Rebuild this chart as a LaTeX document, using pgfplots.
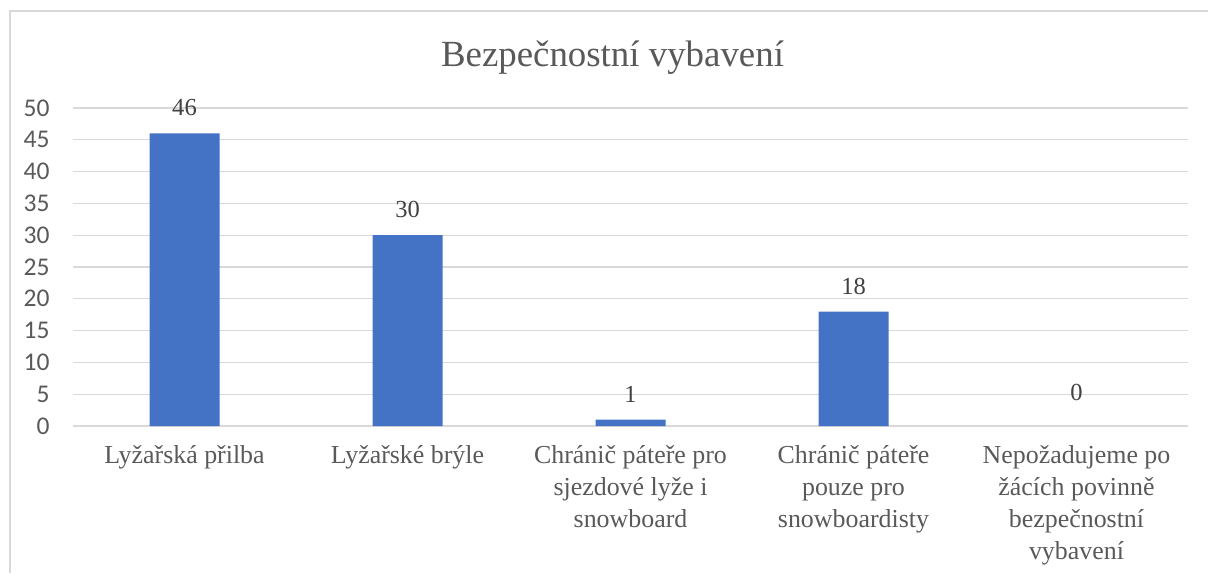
\documentclass[border=0pt]{standalone}
\usepackage{fontspec}
\setmainfont{Liberation Serif}
\newfontfamily\carlito{Carlito}
\usepackage{pgfplots}
\pgfplotsset{compat=1.18}
\definecolor{barblue}{HTML}{4472C4}
\definecolor{gridgray}{HTML}{D9D9D9}
\definecolor{txtgray}{HTML}{595959}
\definecolor{lblgray}{HTML}{404040}
\begin{document}
\begin{tikzpicture}[x=1bp,y=1bp]
\path[use as bounding box] (0,0) rectangle (604,286.5);
\draw[gridgray, line width=0.75bp] (5,0) -- (5,281) -- (604,281);
\node[anchor=base, text=txtgray, font=\fontsize{18.5}{22}\selectfont, inner sep=0pt] at (306.25,253.2) {Bezpečnostní vybavení};
\begin{axis}[
 at={(36.5bp,73.5bp)}, anchor=south west,
 scale only axis, width=557.5bp, height=159bp,
 xmin=-0.5, xmax=4.5, ymin=0, ymax=50,
 ytick={0,5,...,50}, xtick={0,...,4},
 xticklabels={{Lyžařská přilba},{Lyžařské brýle},{Chránič páteře pro\\sjezdové lyže i\\snowboard},{Chránič páteře\\pouze pro\\snowboardisty},{Nepožadujeme po\\žácích povinně\\bezpečnostní\\vybavení}},
 axis line style={draw=none},
 major tick length=0pt,
 ymajorgrids, grid style={gridgray, line width=0.65bp},
 /pgf/number format/assume math mode=true,
 yticklabel style={font=\carlito\fontsize{12.8}{15}\selectfont, text=txtgray, anchor=east, inner sep=0pt, xshift=-11.5bp},
 xticklabel style={font=\fontsize{13}{16}\selectfont, text=txtgray, align=center, anchor=north, inner sep=0pt, yshift=-9.7bp},
 ybar, bar width=35bp, bar shift=0pt,
 nodes near coords,
 nodes near coords style={font=\fontsize{12.3}{15}\selectfont, text=lblgray, anchor=base, inner sep=0pt, yshift=8.75bp},
]
\addplot[fill=barblue, draw=none] coordinates {(0,46) (1,30) (2,1) (3,18)};
\addplot[fill=none, draw=none, nodes near coords style={yshift=4.25bp}] coordinates {(4,0)};
\end{axis}
\end{tikzpicture}
\end{document}
